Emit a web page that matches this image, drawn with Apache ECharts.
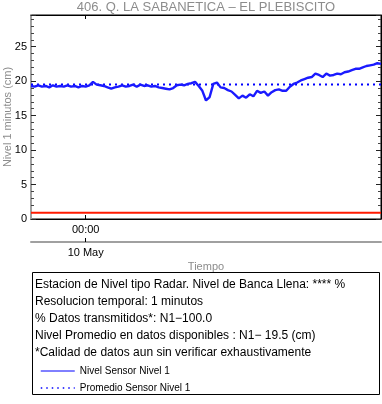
<!DOCTYPE html>
<html>
<head>
<meta charset="utf-8">
<script src="https://cdn.jsdelivr.net/npm/echarts@6/dist/echarts.min.js"></script>
<style>html,body{margin:0;padding:0;background:#fff}#c{width:382px;height:404px}</style>
</head>
<body>
<div id="c"></div>
<script>
// ---- data ----
const titulo = '406. Q. LA SABANETICA – EL PLEBISCITO';
const inicioMin = -225;   // minutes relative to 10 May 00:00
const pasoMin = 15;
const finMin = 1215;
const nivel = [
 19.3,19.2,19.4,19.2,19.3,19.1,19.4,19.2,19.3,19.2,19.4,19.2,19.3,19.1,19.3,19.2,19.4,19.9,19.5,19.4,
 19.3,19.1,18.9,19.1,19.2,19.4,19.2,19.3,19.5,19.2,19.5,19.3,19.4,19.2,19.3,19.1,19.0,18.9,18.8,19.0,
 19.4,19.5,19.4,19.6,19.7,19.9,19.3,18.6,17.2,17.7,19.6,19.8,
 19.1,19.0,18.7,18.5,18.0,17.5,17.9,17.6,18.1,17.8,18.6,18.3,18.5,17.9,18.4,18.7,18.8,18.6,18.6,19.2,
 19.6,19.8,20.1,20.3,20.5,20.6,21.1,20.9,20.6,21.1,20.8,20.9,21.1,21.0,21.3,21.4,21.6,21.8,21.8,22.0,
 22.2,22.3,22.4,22.6,22.5
];
const promedio = 19.5;
const lineaRoja = 0.9;
const xTickValores = [0];
const xTickHora = ['00:00'];
const xTickFecha = ['10 May'];
const yTicks = [0,5,10,15,20,25];
const textos = [
 'Estacion de Nivel tipo Radar. Nivel de Banca Llena: **** %',
 'Resolucion temporal: 1 minutos',
 '% Datos transmitidos*: N1\u2212100.0',
 'Nivel Promedio en datos disponibles : N1\u2212 19.5 (cm)',
 '*Calidad de datos aun sin verificar exhaustivamente'
];
const nombres = ['Nivel Sensor Nivel 1','Promedio Sensor Nivel 1'];

// ---- build ----
const serieNivel = nivel.map((v,i)=>[inicioMin + i*pasoMin, v]);
const font = 'Liberation Sans, Arial, sans-serif';
const chart = echarts.init(document.getElementById('c'), null, {renderer:'canvas'});
const lab = (arr, vals) => (v)=>{ const k = vals.indexOf(v); return k>=0 ? arr[k] : ''; };

const option = {
  animation:false,
  textStyle:{fontFamily:font},
  title:{text:titulo, left:206, textAlign:'center', top:0, padding:[1,0,0,0],
    textStyle:{color:'#8c8c8c', fontSize:13, fontWeight:'normal', fontFamily:font}},
  grid:[
    {left:31, top:15, width:350, height:204, show:true, borderColor:'#000', borderWidth:1, outerBoundsMode:'none', containLabel:false},
    {left:31, top:241, width:350, height:1, outerBoundsMode:'none', containLabel:false}
  ],
  xAxis:[
    {gridIndex:0, type:'value', min:inicioMin, max:finMin, position:'bottom',
     axisLine:{onZero:false, lineStyle:{color:'#000', width:1}},
     axisTick:{inside:true, length:4, customValues:xTickValores, lineStyle:{color:'#000'}},
     axisLabel:{customValues:xTickValores, formatter:lab(xTickHora,xTickValores), color:'#000', fontSize:11, margin:5},
     splitLine:{show:false}},
    {gridIndex:0, type:'value', min:inicioMin, max:finMin, position:'top',
     axisLine:{onZero:false, lineStyle:{color:'#000', width:1}},
     axisTick:{inside:true, length:4, customValues:xTickValores, lineStyle:{color:'#000'}},
     axisLabel:{show:false}, splitLine:{show:false}},
    {gridIndex:1, type:'value', min:inicioMin, max:finMin, position:'bottom',
     axisLine:{onZero:false, lineStyle:{color:'#a0a0a0', width:2}},
     axisTick:{inside:true, length:4, customValues:xTickValores, lineStyle:{color:'#000'}},
     axisLabel:{customValues:xTickValores, formatter:lab(xTickFecha,xTickValores), color:'#000', fontSize:11, margin:5},
     splitLine:{show:false},
     name:'Tiempo', nameLocation:'middle', nameGap:19,
     nameTextStyle:{color:'#8c8c8c', fontSize:11, fontFamily:font}}
  ],
  yAxis:[
    {gridIndex:0, type:'value', min:0, max:29.6, interval:5, position:'left',
     axisLine:{show:true, onZero:false, lineStyle:{color:'#a0a0a0', width:2}},
     axisTick:{show:true, inside:true, length:5, lineStyle:{color:'#222'}},
     minorTick:{show:true, splitNumber:5, length:3, lineStyle:{color:'#444'}},
     axisLabel:{color:'#000', fontSize:11, margin:4, showMaxLabel:false,
       formatter:(v)=> yTicks.indexOf(v)>=0 ? String(v) : ''},
     splitLine:{show:false},
     name:'Nivel 1 minutos (cm)', nameLocation:'middle', nameGap:23, nameMoveOverlap:false,
     nameTextStyle:{color:'#8c8c8c', fontSize:11, fontFamily:font, verticalAlign:'middle'}},
    {gridIndex:0, type:'value', min:0, max:29.6, interval:5, position:'right',
     axisLine:{show:true, onZero:false, lineStyle:{color:'#000', width:1}},
     axisTick:{show:true, inside:true, length:5, lineStyle:{color:'#222'}},
     minorTick:{show:true, splitNumber:5, length:3, lineStyle:{color:'#444'}},
     axisLabel:{show:false}, splitLine:{show:false}},
    {gridIndex:1, type:'value', show:false}
  ],
  legend:{
    orient:'vertical', left:35, top:361, itemWidth:34, itemHeight:10, itemGap:7,
    textStyle:{fontSize:10, color:'#000', fontFamily:font},
    data:[
      {name:nombres[0], itemStyle:{opacity:0}, lineStyle:{color:'#0000ff', width:1, type:'solid'}},
      {name:nombres[1], itemStyle:{opacity:0}, lineStyle:{color:'#0000ff', width:1.5, type:[1.5,4]}}
    ]
  },
  graphic:[
    {type:'rect', shape:{x:32.5, y:272.5, width:347, height:122}, style:{fill:'none', stroke:'#000', lineWidth:1}},
    ...textos.map((t,i)=>({type:'text', x:35, y:285+i*17, style:{text:t, fontSize:12, fill:'#000', font:'12px '+font, textVerticalAlign:'middle'}}))
  ],
  series:[
    {name:nombres[0], type:'line', xAxisIndex:0, yAxisIndex:0, data:serieNivel, showSymbol:false, symbol:'none',
     lineStyle:{color:'#1a1aff', width:2.4}, itemStyle:{color:'#0000ff'}, z:3},
    {name:nombres[1], type:'line', xAxisIndex:0, yAxisIndex:0, data:[[inicioMin,promedio],[finMin,promedio]], symbol:'none',
     lineStyle:{color:'#0000ff', width:2, type:[2,4]}, itemStyle:{color:'#0000ff'}, z:2},
    {name:'ref', type:'line', xAxisIndex:0, yAxisIndex:0, data:[[inicioMin,lineaRoja],[finMin,lineaRoja]], symbol:'none',
     lineStyle:{color:'#ff1a00', width:2}, z:2}
  ]
};
chart.setOption(option);
</script>
</body>
</html>
